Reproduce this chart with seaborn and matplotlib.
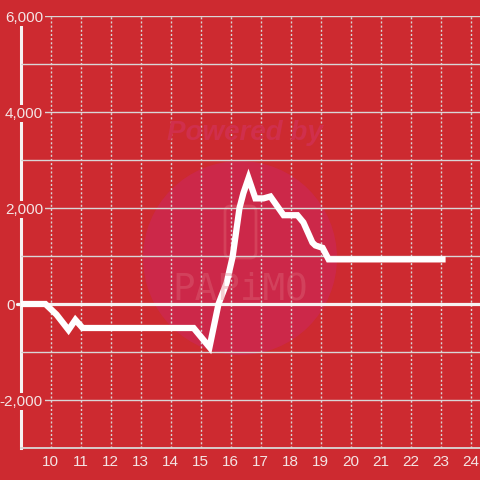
import matplotlib
matplotlib.use("Agg")
import matplotlib.pyplot as plt
from matplotlib.patches import Circle, FancyBboxPatch
from matplotlib.ticker import FuncFormatter, FixedLocator
from matplotlib.transforms import ScaledTranslation
import pandas as pd
import seaborn as sns

# ============================
# 数据
# ============================

hours = [9.0, 9.83, 10.2, 10.6, 10.83, 11.07, 14.77, 15.3, 15.6, 15.87,
         16.07, 16.3, 16.43, 16.6, 16.83, 17.1, 17.33, 17.77, 18.23, 18.43,
         18.73, 18.83, 19.07, 19.27, 23.17]
values = [0, 0, -220, -540, -330, -500, -500, -900, 0, 440,
          980, 2000, 2310, 2620, 2200, 2200, 2240, 1850, 1850, 1700,
          1280, 1220, 1170, 930, 930]

x_ticks = list(range(10, 25))
y_major = [-2000, 0, 2000, 4000, 6000]
y_minor = [-3000, -1000, 1000, 3000, 5000]

# ============================
# 颜色与主题
# ============================

BG = "#cd2a30"
GRID = "#d9d6d6"
LABEL = "#f4e4e4"

sns.set_theme(style="white", rc={
    "axes.facecolor": BG,
    "figure.facecolor": BG,
    "axes.unicode_minus": False,
})
plt.rcParams["font.family"] = ["Liberation Sans", "DejaVu Sans"]

df = pd.DataFrame({"hour": hours, "value": values})

fig = plt.figure(figsize=(4.8, 4.8), dpi=100)
ax = fig.add_axes([20.5 / 480, 32 / 480, 1 - 20.5 / 480, 432 / 480])
ax.set_axisbelow(True)

# 水印（圆形 + 文字）
ax.add_patch(Circle((240 / 480, 1 - 258 / 480), 97 / 480, transform=fig.transFigure,
                    facecolor="#cc2849", edgecolor="none", zorder=0.1))
ax.add_patch(FancyBboxPatch((225 / 480, 1 - 258 / 480), 31 / 480, 52 / 480,
                            boxstyle="round,pad=0,rounding_size=0.012",
                            transform=fig.transFigure, facecolor="none",
                            edgecolor="#dc5a6c", alpha=0.5, linewidth=2, zorder=0.2))
fig.text(245 / 480, 1 - 133 / 480, "Powered by", fontsize=20, fontweight="bold",
         fontstyle="italic", color="#d02f4c", ha="center", va="center", zorder=0.2)
fig.text(240 / 480, 1 - 289 / 480, "PAPiMO", fontsize=27, family="DejaVu Sans Mono",
         color="#e07080", alpha=0.35, ha="center", va="center", zorder=0.2)

sns.lineplot(data=df, x="hour", y="value", ax=ax, color="white", linewidth=4.5,
             solid_capstyle="butt", solid_joinstyle="miter", zorder=3)

# 0 基线
ax.axhline(0, xmin=-3.5 / 459.5, xmax=1, color="#f6f2f2", linewidth=2.3,
           clip_on=False, zorder=2)

ax.set_xlim(9.0, 9.0 + 459.5 / 30)
ax.set_ylim(-3000, 6000)

ax.xaxis.set_major_locator(FixedLocator(x_ticks))
ax.yaxis.set_major_locator(FixedLocator(y_major))
ax.yaxis.set_minor_locator(FixedLocator(y_minor))
ax.yaxis.set_major_formatter(FuncFormatter(lambda v, p: f"{v:,.0f}"))

ax.grid(axis="y", which="both", color=GRID, linewidth=1.0, linestyle="-")
ax.grid(axis="x", which="major", color=GRID, linewidth=1.0, linestyle=(0, (1.5, 1.5)))

ax.tick_params(axis="x", length=0, pad=5, labelsize=11, labelcolor=LABEL)
ax.tick_params(axis="y", which="both", length=0, pad=-16.2, labelsize=11, labelcolor=LABEL)

for v, t in zip(y_major, ax.yaxis.get_major_ticks()):
    t.label1.set_bbox(dict(facecolor=BG, edgecolor="none", pad=1.2))
    if v == 0:
        # "0" 标签在参考图中位于坐标轴左侧
        t.label1.set_transform(t.label1.get_transform()
                               + ScaledTranslation(-0.28, 0, fig.dpi_scale_trans))

ax.set_xlabel("")
ax.set_ylabel("")

for side in ["top", "right"]:
    ax.spines[side].set_visible(False)
ax.spines["left"].set_color("#f6f2f2")
ax.spines["left"].set_linewidth(2.2)
ax.spines["left"].set_zorder(0.3)
ax.spines["bottom"].set_color(GRID)
ax.spines["bottom"].set_linewidth(1.3)

fig.savefig("out.png", dpi=100, facecolor=BG)
